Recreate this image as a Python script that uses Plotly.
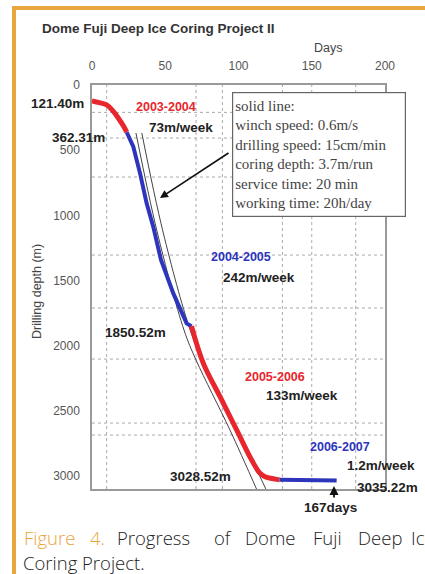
import plotly.graph_objects as go

# ---------------- data ----------------
days_0304 = [0, 5, 10, 14, 18, 21.5, 23.7]
depth_0304 = [121.4, 135, 153, 195, 255, 315, 362.31]

days_0405 = [23.7, 28.2, 32.8, 37.3, 41.8, 47.1, 55.5, 64.6, 67.9]
depth_0405 = [362.31, 474, 678, 908, 1087, 1343, 1599, 1829, 1850.52]

days_0506 = [67.9, 76.0, 87.4, 98.8, 109.0, 114.7, 118.1, 122.0, 126.1, 128.0]
depth_0506 = [1850.52, 2136, 2392, 2648, 2878, 2980, 3006, 3018, 3026, 3028.52]

days_0607 = [128.0, 140, 155, 167]
depth_0607 = [3028.52, 3031, 3033, 3035.22]

model_depth = [368, 1128, 1880, 2110, 2648, 3108]
model_days_a = [30.0, 44.5, 62.8, 71.0, 94.2, 112.6]
model_days_b = [34.0, 48.5, 67.0, 75.5, 99.5, 119.0]

x_ticks = [0, 50, 100, 150, 200]
y_ticks = [0, 500, 1000, 1500, 2000, 2500, 3000]
grid_days = [10, 71, 89, 130, 150, 180]
grid_depths = [210, 407, 706, 1305, 1711, 2103, 2594, 2686]

box_lines = ["solid line:", "winch speed: 0.6m/s", "drilling speed: 15cm/min",
             "coring depth: 3.7m/run", "service time: 20 min", "working time: 20h/day"]

# ---------------- layout helpers ----------------
W, H = 425, 574
L, R, T, B = 92, 40, 85, 85
PW, PH = W - L - R, H - T - B


def px(x):
    return (x - L) / PW


def py(y):
    return (H - B - y) / PH


RED = "#e8262d"
BLUE = "#2d35bd"
ORANGE = "#e9a53e"
SANS = "Liberation Sans, Arial, sans-serif"

fig = go.Figure()
for d in (model_days_a, model_days_b):
    fig.add_trace(go.Scatter(x=d, y=model_depth, mode="lines",
                             line=dict(color="#444", width=1, shape="spline"),
                             hoverinfo="skip"))
fig.add_trace(go.Scatter(x=days_0304, y=depth_0304, mode="lines",
                         line=dict(color=RED, width=5, shape="spline")))
fig.add_trace(go.Scatter(x=days_0405, y=depth_0405, mode="lines",
                         line=dict(color=BLUE, width=4)))
fig.add_trace(go.Scatter(x=days_0506, y=depth_0506, mode="lines",
                         line=dict(color=RED, width=5, shape="spline")))
fig.add_trace(go.Scatter(x=days_0607, y=depth_0607, mode="lines",
                         line=dict(color=BLUE, width=4)))

shapes = []
for g in grid_days:
    shapes.append(dict(type="line", xref="x", yref="paper", x0=g, x1=g, y0=0, y1=1,
                       line=dict(color="#aaa", width=1, dash="dot"), layer="below"))
for g in grid_depths:
    shapes.append(dict(type="line", xref="paper", yref="y", x0=0, x1=1, y0=g, y1=g,
                       line=dict(color="#aaa", width=1, dash="dot"), layer="below"))
# orange frame of the figure panel
shapes.append(dict(type="line", xref="paper", yref="paper", x0=px(14), x1=px(14),
                   y0=py(6), y1=py(580), line=dict(color=ORANGE, width=4)))
shapes.append(dict(type="line", xref="paper", yref="paper", x0=px(12), x1=px(430),
                   y0=py(8), y1=py(8), line=dict(color=ORANGE, width=4)))

ann = []


def label(text, x, y, color="#222", size=13.5, bold=True, xanchor="center", **kw):
    ann.append(dict(text=("<b>%s</b>" % text) if bold else text, xref="paper", yref="paper",
                    x=px(x), y=py(y), xanchor=xanchor, yanchor="middle", showarrow=False,
                    font=dict(family=SANS, size=size, color=color), **kw))


label("Dome Fuji Deep Ice Coring Project II", 40, 28, "#333", 13.5, xanchor="left")
label("Days", 328, 48, "#444", 12.5, bold=False)
label("Drilling depth (m)", 37, 292, "#444", 12.5, bold=False, textangle=-90)
label("121.40m", 86, 103, xanchor="right")
label("362.31m", 78, 137)
label("2003-2004", 166, 107, RED, 12.5)
label("73m/week", 181, 127)
label("2004-2005", 241, 257, BLUE, 12.5)
label("242m/week", 259, 277)
label("1850.52m", 135, 332)
label("2005-2006", 275, 377, RED, 12.5)
label("133m/week", 302, 395)
label("3028.52m", 200, 476)
label("2006-2007", 340, 447, BLUE, 12.5)
label("1.2m/week", 381, 465)
label("3035.22m", 387, 487)
label("167days", 330, 507)

# parameter box
ann.append(dict(text="<br>".join(box_lines), xref="paper", yref="paper",
                x=px(232), y=py(92), xanchor="left", yanchor="top", showarrow=False,
                align="left", valign="middle", width=168, height=119,
                bgcolor="white", bordercolor="#666", borderwidth=1.2, borderpad=2,
                font=dict(family="Liberation Serif, Times New Roman, serif", size=15,
                          color="#444")))
# arrow from box to model lines
ann.append(dict(text="", x=46.4, y=867, xref="x", yref="y", ax=70, ay=-46,
                axref="pixel", ayref="pixel", showarrow=True, arrowhead=2,
                arrowsize=1, arrowwidth=1.6, arrowcolor="#111"))
# arrow marking 167 days
ann.append(dict(text="", xref="paper", yref="paper", x=px(334), y=py(486),
                ax=0, ay=13, showarrow=True, arrowhead=2, arrowsize=1,
                arrowwidth=1.8, arrowcolor="#111"))

# caption (justified words)
CAP = "Open Sans, Lato, sans-serif"
cap_words = [("Figure", 22, ORANGE), ("4.", 88, ORANGE), ("Progress", 115, "#222"),
             ("of", 212, "#222"), ("Dome", 243, "#222"), ("Fuji", 311, "#222"),
             ("Deep", 356, "#222"), ("Ice", 409, "#222")]
for w, x, c in cap_words:
    ann.append(dict(text=w, xref="paper", yref="paper", x=px(x), y=py(537),
                    xanchor="left", yanchor="middle", showarrow=False,
                    font=dict(family=CAP, size=18.5, color=c, weight=300)))
ann.append(dict(text="Coring Project.", xref="paper", yref="paper", x=px(21), y=py(562),
                xanchor="left", yanchor="middle", showarrow=False,
                font=dict(family=CAP, size=18.5, color="#222", weight=300)))

fig.update_layout(
    width=W, height=H, margin=dict(l=L, r=R, t=T, b=B),
    paper_bgcolor="white", plot_bgcolor="white", showlegend=False,
    shapes=shapes, annotations=ann,
    xaxis=dict(range=[0, 200], side="top", tickvals=x_ticks, ticks="",
               showgrid=False, zeroline=False, showline=True, mirror=True,
               linecolor="#999", linewidth=1.5, ticklabelstandoff=8,
               tickfont=dict(family=SANS, size=12, color="#555")),
    yaxis=dict(range=[3100, 0], tickvals=y_ticks, ticks="",
               showgrid=False, zeroline=False, showline=True, mirror=True,
               linecolor="#999", linewidth=1.5, ticklabelstandoff=8,
               tickfont=dict(family=SANS, size=12, color="#555")),
)

fig.write_html("out.html", post_script="document.body.style.margin='0';",
               config={"displayModeBar": False})
